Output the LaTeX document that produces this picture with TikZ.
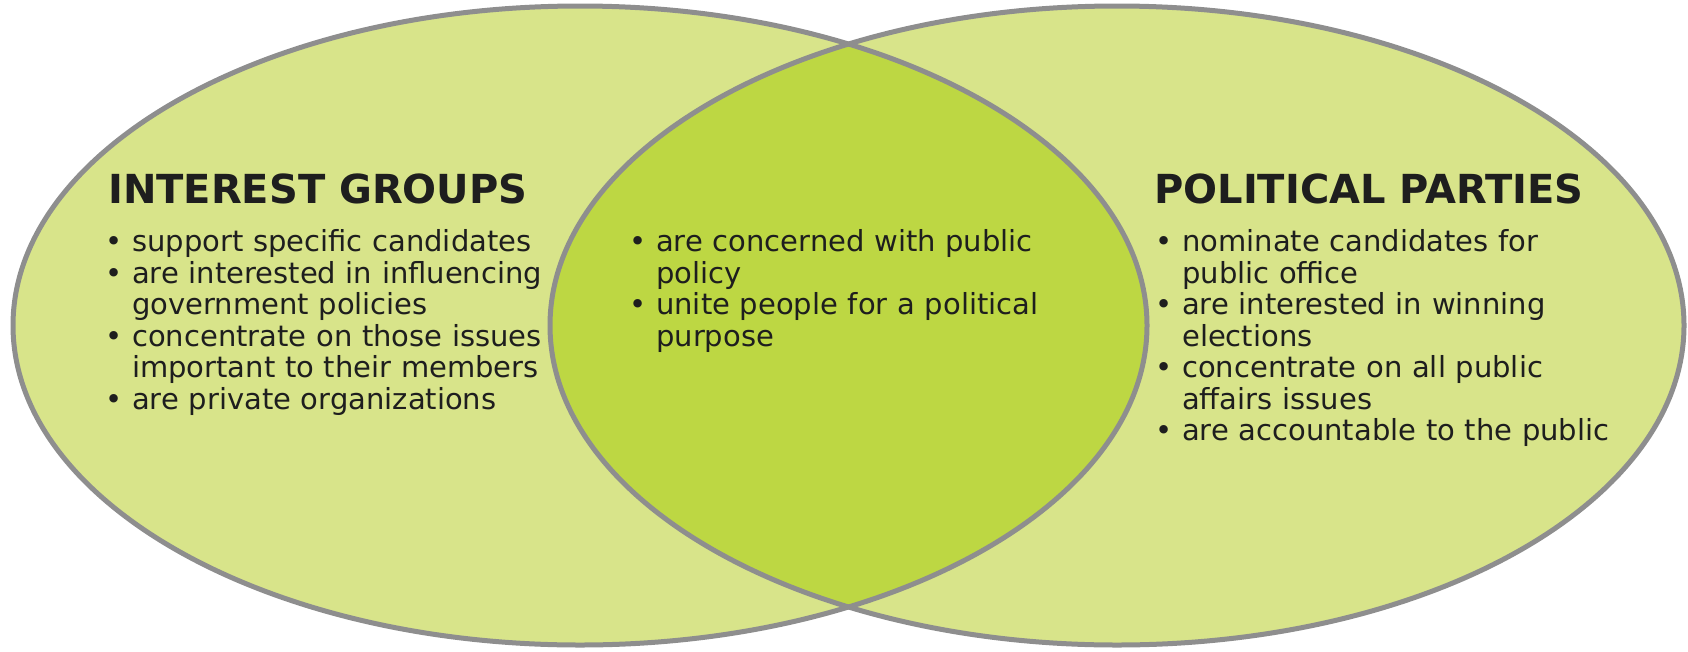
\documentclass[tikz,border=0pt]{standalone}
\usepackage{fontspec}
\setmainfont{DejaVu Sans}
\usetikzlibrary{shapes.geometric,positioning}

\definecolor{pale}{HTML}{D8E48A}
\definecolor{lens}{HTML}{BDD743}
\definecolor{rim}{HTML}{8E8E8E}
\definecolor{ink}{HTML}{1E1E1E}

% punto elenco con rientro sospeso
\newcommand\itm[1]{\par\hangindent=27pt\hangafter=1\noindent\strut\makebox[27pt][l]{\textbullet}#1\par}

\begin{document}
\begin{tikzpicture}[x=1pt,y=-1pt]
\tikzstyle{blob} = [ellipse, minimum width=1134pt, minimum height=639pt, inner sep=0]
\tikzstyle{title} = [anchor=base west, inner sep=0, text=ink, font=\fontsize{40}{40}\selectfont\bfseries]
\tikzstyle{list} = [anchor=north west, inner sep=0, align=left, text width=470pt, text=ink, font=\fontsize{29}{31.5}\selectfont]

% Dimensioni
\def\rx{567pt}
\def\ry{319.5pt}

\useasboundingbox (0,0) rectangle (1688,651);

% Ellissi
\node[blob, fill=pale] (left) at (580,325.5) {};
\node[blob, fill=pale] (right) at (1117,325.5) {};

% intersezione
\begin{scope}
  \clip (left.center) ellipse [x radius=\rx, y radius=\ry];
  \fill[lens] (right.center) ellipse [x radius=\rx, y radius=\ry];
\end{scope}

% bordi
\foreach \e in {left,right} {
  \draw[rim, line width=5pt] (\e.center) ellipse [x radius=\rx, y radius=\ry];
}

% Titoli
\node[title] (groups) at (108,203) {INTEREST GROUPS};
\node[title] (parties) at (1154,203) {POLITICAL PARTIES};

% Elenchi
\node[list] (groupslist) at (105,220) {%
  \itm{support specific candidates}
  \itm{are interested in influencing\newline government policies}
  \itm{concentrate on those issues\newline important to their members}
  \itm{are private organizations}};
\node[list] (bothlist) at (629,220) {%
  \itm{are concerned with public\newline policy}
  \itm{unite people for a political\newline purpose}};
\node[list] (partieslist) at (1155,220) {%
  \itm{nominate candidates for\newline public office}
  \itm{are interested in winning\newline elections}
  \itm{concentrate on all public\newline affairs issues}
  \itm{are accountable to the public}};

\end{tikzpicture}
\end{document}
